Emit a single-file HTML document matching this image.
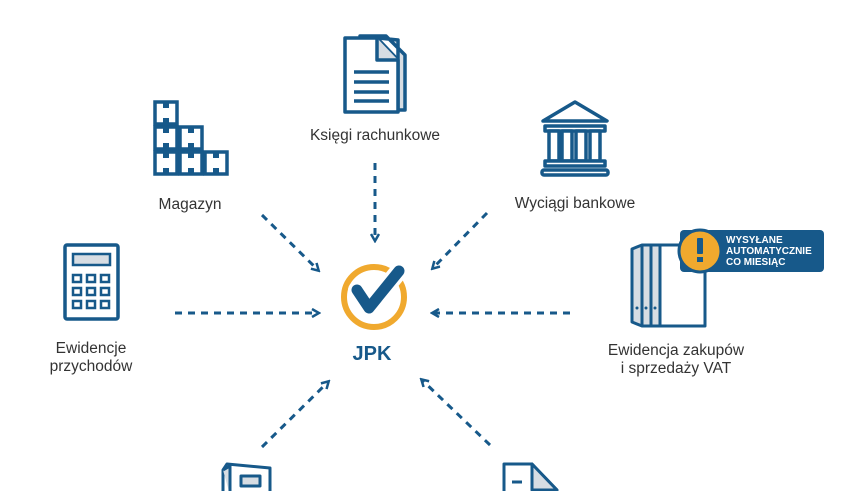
<!DOCTYPE html>
<html><head><meta charset="utf-8"><style>
html,body{margin:0;padding:0;background:#fff;width:850px;height:491px;overflow:hidden}
svg{display:block}
text{font-family:"Liberation Sans",sans-serif;fill:#333}
</style></head><body>
<svg width="850" height="491" viewBox="0 0 850 491" xmlns="http://www.w3.org/2000/svg">
<defs>
<marker id="ah" markerWidth="10" markerHeight="10" refX="7" refY="5" orient="auto" markerUnits="userSpaceOnUse">
<path d="M1,1 L8,5 L1,9" fill="none" stroke="#17598a" stroke-width="2.5"/>
</marker>
</defs>
<g stroke="#17598a" stroke-width="3" stroke-dasharray="7,6" fill="none" marker-end="url(#ah)">
<line x1="375" y1="163" x2="375" y2="240"/>
<line x1="487" y1="213" x2="433" y2="268"/>
<line x1="262" y1="215" x2="318" y2="270"/>
<line x1="175" y1="313" x2="318" y2="313"/>
<line x1="570" y1="313" x2="433" y2="313"/>
<line x1="262" y1="447" x2="328" y2="382"/>
<line x1="490" y1="445" x2="422" y2="380"/>
</g>
<!-- document icon -->
<g stroke="#17598a" stroke-width="3.5" fill="#fff" stroke-linejoin="round">
<path d="M360,36 L386,36 L405,55 L405,110 L398,110 L398,40 Z" fill="#d7dde3"/>
<path d="M345,38 L377,38 L398,60 L398,112 L345,112 Z"/>
<path d="M377,38 L377,60 L398,60" fill="#d7dde3"/>
<path d="M354,72 H389 M354,82 H389 M354,92 H389 M354,101 H389" fill="none"/>
</g>
<text x="375" y="140" font-size="15.5" text-anchor="middle">Księgi rachunkowe</text>
<!-- bank -->
<g stroke="#17598a" stroke-width="3.5" fill="#fff" stroke-linejoin="round">
<path d="M543,121 L575,102 L607,121 Z"/>
<rect x="545" y="126" width="60" height="5"/>
<rect x="549" y="131" width="10" height="30"/>
<rect x="562" y="131" width="10" height="30"/>
<rect x="576" y="131" width="10" height="30"/>
<rect x="590" y="131" width="10" height="30"/>
<rect x="545" y="161" width="60" height="5"/>
<rect x="542" y="170" width="66" height="5" rx="2"/>
</g>
<text x="575" y="208" font-size="15.5" text-anchor="middle">Wyciągi bankowe</text>
<!-- magazyn -->
<g stroke="#17598a" stroke-width="3.5" fill="#fff">
<rect x="155" y="102" width="22" height="22"/>
<rect x="155" y="127" width="22" height="22"/><rect x="180" y="127" width="22" height="22"/>
<rect x="155" y="152" width="22" height="22"/><rect x="180" y="152" width="22" height="22"/><rect x="205" y="152" width="22" height="22"/>
</g>
<g fill="#17598a">
<rect x="163" y="102" width="6" height="6"/><rect x="163" y="127" width="6" height="6"/><rect x="188" y="127" width="6" height="6"/>
<rect x="163" y="152" width="6" height="6"/><rect x="188" y="152" width="6" height="6"/><rect x="213" y="152" width="6" height="6"/>
<rect x="163" y="118" width="6" height="6"/><rect x="163" y="143" width="6" height="6"/><rect x="188" y="143" width="6" height="6"/>
<rect x="163" y="168" width="6" height="6"/><rect x="188" y="168" width="6" height="6"/><rect x="213" y="168" width="6" height="6"/>
</g>
<text x="190" y="209" font-size="15.5" text-anchor="middle">Magazyn</text>
<!-- calculator -->
<g stroke="#17598a" stroke-width="3.5" fill="#fff">
<rect x="65" y="245" width="53" height="74" rx="2"/>
<rect x="73" y="254" width="37" height="11" fill="#d7dde3" stroke-width="2.5"/>
<g stroke-width="2.5">
<rect x="73" y="275" width="8" height="7"/><rect x="87" y="275" width="8" height="7"/><rect x="101" y="275" width="8" height="7"/>
<rect x="73" y="288" width="8" height="7"/><rect x="87" y="288" width="8" height="7"/><rect x="101" y="288" width="8" height="7"/>
<rect x="73" y="301" width="8" height="7"/><rect x="87" y="301" width="8" height="7"/><rect x="101" y="301" width="8" height="7"/>
</g>
</g>
<text x="91" y="353" font-size="15.5" text-anchor="middle">Ewidencje</text>
<text x="91" y="371" font-size="15.5" text-anchor="middle">przychodów</text>
<!-- JPK -->
<circle cx="374" cy="297" r="30" fill="none" stroke="#f0a92e" stroke-width="6"/>
<path d="M357,290 L369,308 L399,271" fill="none" stroke="#fff" stroke-width="18" stroke-linecap="round" stroke-linejoin="round"/>
<path d="M357,290 L369,308 L399,271" fill="none" stroke="#17598a" stroke-width="11" stroke-linecap="round" stroke-linejoin="round"/>
<text x="372" y="360" font-size="20" font-weight="bold" text-anchor="middle" style="fill:#17598a">JPK</text>
<!-- binders -->
<g stroke="#17598a" stroke-width="3" fill="#fff" stroke-linejoin="round">
<path d="M660,245 L700,245 L705,250 L705,326 L660,326 Z"/>
<path d="M632,249 L642,245 L660,245 L660,326 L642,326 L632,322 Z" fill="#d7dde3"/>
<line x1="642" y1="245" x2="642" y2="326"/><line x1="651" y1="245" x2="651" y2="326"/>
</g>
<g fill="#17598a"><circle cx="637" cy="308" r="1.5"/><circle cx="646" cy="308" r="1.5"/><circle cx="655" cy="308" r="1.5"/></g>
<rect x="680" y="230" width="144" height="42" rx="4" fill="#17598a"/>
<circle cx="700" cy="251" r="21" fill="#f0a92e" stroke="#17598a" stroke-width="3"/>
<rect x="697" y="238" width="6" height="16" rx="1" fill="#17598a"/>
<rect x="697" y="257" width="6" height="5" fill="#17598a"/>
<g font-size="10" font-weight="bold">
<text x="726" y="243" style="fill:#fff">WYSYŁANE</text>
<text x="726" y="254" style="fill:#fff">AUTOMATYCZNIE</text>
<text x="726" y="265" style="fill:#fff">CO MIESIĄC</text>
</g>
<text x="676" y="355" font-size="15.5" text-anchor="middle">Ewidencja zakupów</text>
<text x="676" y="373" font-size="15.5" text-anchor="middle">i sprzedaży VAT</text>
<!-- bottom partial icons -->
<g stroke="#17598a" stroke-width="3" fill="#fff" stroke-linejoin="round">
<path d="M223,470 L227,464 L270,468 L270,495 L223,495 Z"/>
<path d="M223,470 L230,466 L230,495" fill="#d7dde3"/>
<rect x="241" y="476" width="19" height="10" fill="#d7dde3"/>
<path d="M504,495 L504,464 L532,464 L557,490 L557,495" />
<path d="M532,464 L532,490 L557,490 Z" fill="#d7dde3"/>
<line x1="512" y1="482" x2="522" y2="482"/>
</g>
</svg>
</body></html>
